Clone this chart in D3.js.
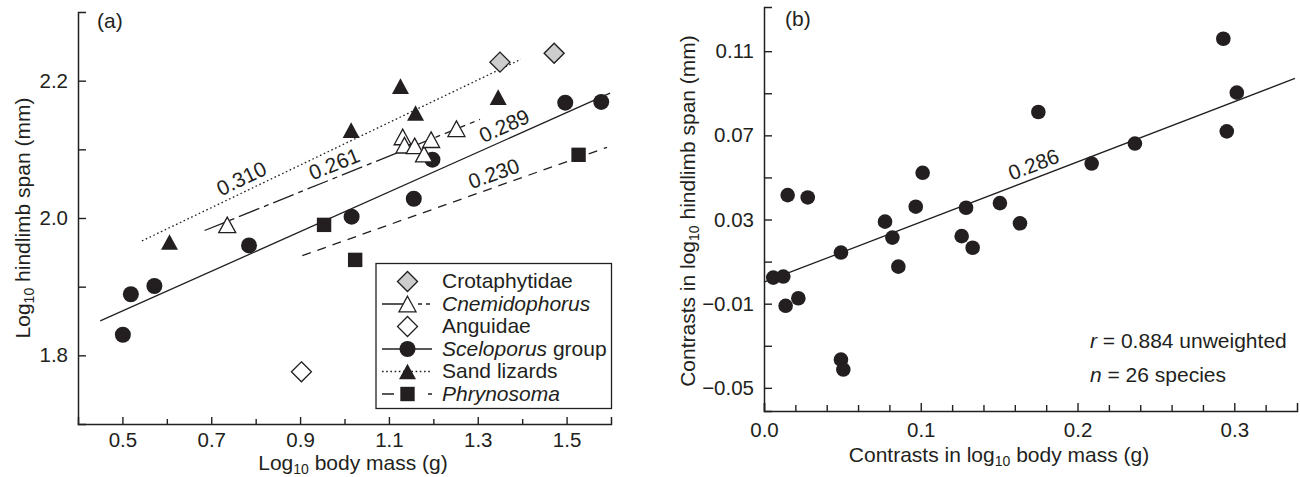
<!DOCTYPE html>
<html>
<head>
<meta charset="utf-8">
<script src="https://cdn.jsdelivr.net/npm/d3@7"></script>
<style>
  body { margin: 0; background: #fff; }
  svg { font-family: "Liberation Sans", Arial, Helvetica, sans-serif; }
  .tick text { font-size: 20.5px; fill: #231f20; }
  .domain { stroke-width: 1.5; }
  .tick line { stroke-width: 1.4; }
</style>
</head>
<body>
<svg id="chart" width="1300" height="477"></svg>
<script>
// ---------- panel (a): log10 body mass vs log10 hindlimb span ----------
const crotaphytidae = [[1.350, 2.227], [1.472, 2.240]];
const anguidae      = [[0.903, 1.776]];
const sandLizards   = [[0.606, 1.965], [1.015, 2.128], [1.126, 2.192], [1.160, 2.153], [1.346, 2.176]];
const cnemidophorus = [[0.736, 1.990], [1.131, 2.118], [1.135, 2.106], [1.158, 2.105],
                       [1.179, 2.093], [1.195, 2.114], [1.252, 2.130]];
const sceloporus    = [[0.501, 1.830], [0.519, 1.889], [0.572, 1.901], [0.785, 1.960], [1.016, 2.002],
                       [1.156, 2.028], [1.198, 2.085], [1.497, 2.168], [1.578, 2.169]];
const phrynosoma    = [[0.954, 1.990], [1.024, 1.939], [1.527, 2.092]];

// fitted lines (sand lizards, Cnemidophorus, Sceloporus, Phrynosoma)
const fitSlope     = [0.310, 0.261, 0.289, 0.230];
const fitIntercept = [1.798, 1.803, 1.720, 1.737];
const fitExtent    = [[0.544, 1.397], [0.685, 1.305], [0.450, 1.598], [0.905, 1.591]];
const fitLabelAt   = [0.781, 0.988, 1.372, 1.346];

const xTicksA = [0.5, 0.6, 0.7, 0.8, 0.9, 1.0, 1.1, 1.2, 1.3, 1.4, 1.5];
const xLabelsA = [0.5, 0.7, 0.9, 1.1, 1.3, 1.5];
const yTicksA = [1.8, 1.9, 2.0, 2.1, 2.2];
const yLabelsA = [1.8, 2.0, 2.2];

// ---------- panel (b): independent contrasts ----------
const contrastMass = [0.0151, 0.0279, 0.1012, 0.0968, 0.0772, 0.1289, 0.1505, 0.0819, 0.1261, 0.1331,
                      0.0491, 0.0857, 0.0059, 0.0123, 0.0138, 0.0219, 0.0491, 0.0506, 0.1750, 0.2090,
                      0.2366, 0.2930, 0.3016, 0.2952, 0.1633];
const contrastSpan = [0.0416, 0.0405, 0.0522, 0.0361, 0.0290, 0.0356, 0.0378, 0.0214, 0.0221, 0.0166,
                      0.0143, 0.0076, 0.0024, 0.0029, -0.0110, -0.0074, -0.0366, -0.0413, 0.0811, 0.0566,
                      0.0661, 0.1159, 0.0903, 0.0719, 0.0282];
const fitB = { slope: 0.286, intercept: 0.0002, extent: [0, 0.3387], labelAt: 0.175 };

const xTicksB = [0, 0.02, 0.04, 0.06, 0.08, 0.10, 0.12, 0.14, 0.16, 0.18, 0.20, 0.22, 0.24, 0.26, 0.28, 0.30, 0.32];
const xLabelsB = [0, 0.1, 0.2, 0.3];
const yTicksB = [-0.05, -0.03, -0.01, 0.01, 0.03, 0.05, 0.07, 0.09, 0.11];
const yLabelsB = [-0.05, -0.01, 0.03, 0.07, 0.11];

// ---------- drawing ----------
const ink = "#231f20";
const svg = d3.select("#chart");

const xa = d3.scaleLinear().domain([0.4, 1.6]).range([78, 611]);
const ya = d3.scaleLinear().domain([1.7, 2.3]).range([424, 12]);
const xb = d3.scaleLinear().domain([0, 0.34]).range([764, 1297]);
const yb = d3.scaleLinear().domain([-0.061, 0.131]).range([411, 7]);

const has = (arr, d) => arr.some(v => Math.abs(v - d) < 1e-9);

function axes(x, y, xt, xl, yt, yl, fx, fy, xMajor, xMinor, yLen, xPad) {
  const gx = svg.append("g")
    .attr("transform", `translate(0,${y.range()[0]})`)
    .attr("color", ink)
    .call(d3.axisBottom(x).tickValues(xt).tickSize(-xMajor).tickSizeOuter(-xMajor)
      .tickPadding(xPad).tickFormat(d => has(xl, d) ? fx(d) : ""));
  gx.selectAll(".tick line").attr("y2", d => has(xl, d) ? -xMajor : -xMinor);

  svg.append("g")
    .attr("transform", `translate(${x.range()[0]},0)`)
    .attr("color", ink)
    .call(d3.axisLeft(y).tickValues(yt).tickSize(-yLen).tickSizeOuter(-yLen)
      .tickPadding(10).tickFormat(d => has(yl, d) ? fy(d) : ""));
}

// label with a subscript "10"
function subText(sel, before, after) {
  sel.append("tspan").text(before);
  sel.append("tspan").attr("font-size", 14).attr("dy", 4).text("10");
  sel.append("tspan").attr("dy", -4).text(after);
}

function fitLine(x, y, slope, icpt, ext, dash, labelAt, label) {
  const f = v => icpt + slope * v;
  svg.append("line")
    .attr("x1", x(ext[0])).attr("y1", y(f(ext[0])))
    .attr("x2", x(ext[1])).attr("y2", y(f(ext[1])))
    .attr("stroke", ink).attr("stroke-width", 1.3)
    .attr("stroke-dasharray", dash);
  const ang = Math.atan2(y(f(ext[1])) - y(f(ext[0])), x(ext[1]) - x(ext[0])) * 180 / Math.PI;
  svg.append("text")
    .attr("transform", `translate(${x(labelAt)},${y(f(labelAt))}) rotate(${ang})`)
    .attr("y", -6).attr("text-anchor", "middle")
    .attr("font-size", 21).attr("fill", ink)
    .text(label);
}

const shapes = {
  circle:  r => `M${r},0A${r},${r} 0 1,1 ${-r},0A${r},${r} 0 1,1 ${r},0Z`,
  triangle: () => "M0,-7.8L8.5,7.8L-8.5,7.8Z",
  square:  () => "M-7.2,-7.2H7.2V7.2H-7.2Z",
  diamond: () => "M0,-10L10,0L0,10L-10,0Z"
};
const styleA = {
  Crotaphytidae:  { shape: "diamond",  fill: "#cdcdcd", stroke: ink, sw: 1.4 },
  Cnemidophorus:  { shape: "triangle", fill: "#fff",    stroke: ink, sw: 1.3 },
  Anguidae:       { shape: "diamond",  fill: "#fff",    stroke: ink, sw: 1.3 },
  Sceloporus:     { shape: "circle",   fill: ink,       stroke: "none", sw: 0 },
  "Sand lizards": { shape: "triangle", fill: ink,       stroke: "none", sw: 0 },
  Phrynosoma:     { shape: "square",   fill: ink,       stroke: "none", sw: 0 }
};
function marker(g, name, px, py) {
  const s = styleA[name];
  g.append("path")
    .attr("transform", `translate(${px},${py})`)
    .attr("d", shapes[s.shape](8))
    .attr("fill", s.fill).attr("stroke", s.stroke).attr("stroke-width", s.sw);
}

// ----- panel (a) -----
axes(xa, ya, xTicksA, xLabelsA, yTicksA, yLabelsA, d3.format(".1f"), d3.format(".1f"), 7, 5, 8, 8);

const dashA = ["1.6,2.6", "22,5,5,5", null, "9,7"];
fitSlope.forEach((s, i) =>
  fitLine(xa, ya, s, fitIntercept[i], fitExtent[i], dashA[i], fitLabelAt[i], s.toFixed(3)));

const ptsA = svg.append("g");
[["Sceloporus", sceloporus], ["Phrynosoma", phrynosoma], ["Sand lizards", sandLizards],
 ["Cnemidophorus", cnemidophorus], ["Anguidae", anguidae], ["Crotaphytidae", crotaphytidae]]
  .forEach(([name, data]) => data.forEach(d => marker(ptsA, name, xa(d[0]), ya(d[1]))));

svg.append("text").attr("x", 97).attr("y", 28).attr("font-size", 21).attr("fill", ink).text("(a)");

svg.append("text").attr("x", 353).attr("y", 470).attr("text-anchor", "middle")
  .attr("font-size", 21).attr("fill", ink)
  .call(subText, "Log", " body mass (g)");
svg.append("text").attr("transform", "translate(30,218) rotate(-90)").attr("text-anchor", "middle")
  .attr("font-size", 21).attr("fill", ink)
  .call(subText, "Log", " hindlimb span (mm)");

// legend
const legendRows = [
  { name: "Crotaphytidae", italic: "", plain: "Crotaphytidae", dash: "none" },
  { name: "Cnemidophorus", italic: "Cnemidophorus", plain: "", dash: "22,14,4,4,4,10" },
  { name: "Anguidae", italic: "", plain: "Anguidae", dash: "none" },
  { name: "Sceloporus", italic: "Sceloporus", plain: " group", dash: null },
  { name: "Sand lizards", italic: "", plain: "Sand lizards", dash: "1.6,2.6" },
  { name: "Phrynosoma", italic: "Phrynosoma", plain: "", dash: "12,34,10" }
];
const lg = svg.append("g");
lg.append("rect").attr("x", 376).attr("y", 263.5).attr("width", 235.5).attr("height", 145)
  .attr("fill", "#fff").attr("stroke", ink).attr("stroke-width", 1.3);
legendRows.forEach((r, i) => {
  const cy = 281.5 + i * 22.5;
  if (r.dash !== "none") {
    lg.append("line").attr("x1", 382).attr("x2", 432).attr("y1", cy).attr("y2", cy)
      .attr("stroke", ink).attr("stroke-width", 1.3).attr("stroke-dasharray", r.dash);
  }
  marker(lg, r.name, 407.5, cy);
  const t = lg.append("text").attr("x", 442).attr("y", cy + 6.5).attr("font-size", 21).attr("fill", ink);
  if (r.italic) t.append("tspan").attr("font-style", "italic").text(r.italic);
  if (r.plain) t.append("tspan").text(r.plain);
});

// ----- panel (b) -----
axes(xb, yb, xTicksB, xLabelsB, yTicksB, yLabelsB, d3.format(".1f"), d3.format(".2f"), 8, 6, 8, 11);

fitLine(xb, yb, fitB.slope, fitB.intercept, fitB.extent, null, fitB.labelAt, fitB.slope.toFixed(3));

svg.append("g").selectAll("circle")
  .data(contrastMass.map((m, i) => [m, contrastSpan[i]]))
  .join("circle")
  .attr("cx", d => xb(d[0])).attr("cy", d => yb(d[1])).attr("r", 7.3)
  .attr("fill", ink);

svg.append("text").attr("x", 785).attr("y", 26).attr("font-size", 21).attr("fill", ink).text("(b)");

svg.append("text").attr("x", 999).attr("y", 461.5).attr("text-anchor", "middle")
  .attr("font-size", 21).attr("fill", ink)
  .call(subText, "Contrasts in log", " body mass (g)");
svg.append("text").attr("transform", "translate(695,211) rotate(-90)").attr("text-anchor", "middle")
  .attr("font-size", 21).attr("fill", ink)
  .call(subText, "Contrasts in log", " hindlimb span (mm)");

const stats = svg.append("g").attr("font-size", 21).attr("fill", ink);
const t1 = stats.append("text").attr("x", 1090).attr("y", 348);
t1.append("tspan").attr("font-style", "italic").text("r");
t1.append("tspan").text(" = 0.884 unweighted");
const t2 = stats.append("text").attr("x", 1090).attr("y", 381.5);
t2.append("tspan").attr("font-style", "italic").text("n");
t2.append("tspan").text(" = 26 species");
</script>
</body>
</html>
